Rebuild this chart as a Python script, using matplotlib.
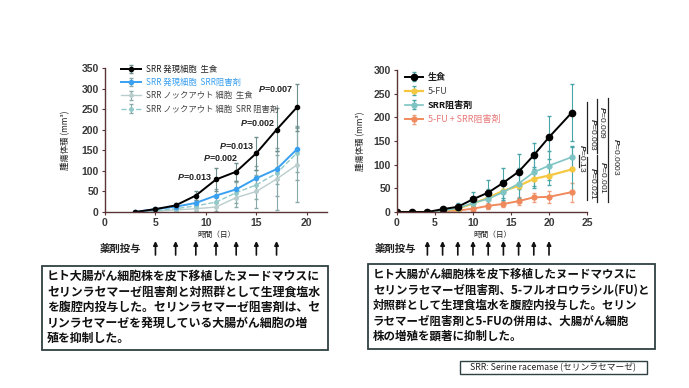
import matplotlib
matplotlib.use("Agg")
import matplotlib.pyplot as plt
import matplotlib.transforms as mtransforms
from matplotlib.patches import Rectangle

plt.rcParams['font.family'] = ['Liberation Sans', 'Noto Sans CJK JP', 'DejaVu Sans']
plt.rcParams['mathtext.fontset'] = 'custom'
plt.rcParams['mathtext.it'] = 'Liberation Sans:italic:bold'
plt.rcParams['mathtext.rm'] = 'Liberation Sans:bold'

CJK = ['Noto Sans CJK JP', 'DejaVu Sans']
W, H = 689, 388

# ---- left chart data (SRR expressing / knockout cells) ----
days_l = [3, 5, 7, 9, 11, 13, 15, 17, 19]
srr_saline = [0, 7, 16, 40, 79, 98, 143, 200, 254]
srr_saline_err = [0, 3, 6, 10, 27, 22, 40, 52, 58]
srr_inhib = [0, 7, 13, 22, 40, 55, 82, 104, 152]
srr_inhib_err = [0, 3, 5, 8, 15, 20, 30, 35, 55]
ko_saline = [0, 2, 5, 8, 12, 35, 50, 80, 114]
ko_saline_err = [0, 2, 3, 5, 10, 22, 40, 75, 90]
ko_inhib = [0, 3, 8, 15, 24, 47, 66, 94, 143]
ko_inhib_err = [0, 2, 4, 6, 12, 25, 35, 55, 65]
labels_l = ["SRR 発現細胞  生食", "SRR 発現細胞  SRR阻害剤",
            "SRR ノックアウト 細胞  生食", "SRR ノックアウト 細胞  SRR 阻害剤"]
pvals_l = ["0.013", "0.002", "0.013", "0.002", "0.007"]
pval_x_l = [8.9, 11.5, 13.1, 15.1, 16.9]
pval_y_l = [85, 131, 160, 216, 300]
doses_l = [5, 7, 9, 11, 13, 15, 17]

# ---- right chart data (5-FU combination) ----
days_r = [0, 2, 4, 6, 8, 10, 12, 14, 16, 18, 20, 23]
saline = [0, 0, 0, 6, 11, 27, 41, 62, 85, 120, 158, 210]
saline_err = [0, 0, 0, 3, 8, 15, 27, 32, 37, 25, 45, 60]
fu = [0, 0, 0, 3, 7, 18, 30, 45, 55, 70, 77, 90]
fu_err = [0, 0, 0, 2, 4, 8, 15, 20, 25, 20, 20, 50]
srr_inh = [0, 0, 0, 3, 8, 19, 28, 42, 60, 84, 98, 116]
srr_inh_err = [0, 0, 0, 2, 5, 10, 20, 25, 32, 30, 30, 22]
combo = [0, 0, 0, 2, 3, 7, 13, 17, 23, 31, 32, 42]
combo_err = [0, 0, 0, 1, 2, 5, 6, 6, 8, 10, 12, 20]
labels_r = ["生食", "5-FU", "SRR阻害剤", "5-FU + SRR阻害剤"]
doses_r = [4, 6, 8, 10, 12, 14, 16, 18, 20]
# significance brackets at day 23
br_x = [24.96, 24.96, 26.3, 26.3, 27.8, 23.9]
br_lo = [124, 25, 124, 22, 22, 96]
br_hi = [233, 117, 238, 120, 240, 120]
br_p = ["0.003", "0.021", "0.009", "0.001", "0.0003", "0.13"]
br_tx = [25.8, 25.8, 27.1, 27.2, 28.9, 24.4]
br_ty = [163, 61, 188, 72, 116, 114]

spine_c = "#5a3434"
tick_c = "#3a3a3a"

fig = plt.figure(figsize=(W / 100, H / 100), dpi=100)
fig.patch.set_facecolor("white")


def style_axes(ax):
    for s in ["top", "right"]:
        ax.spines[s].set_visible(False)
    for s in ["left", "bottom"]:
        ax.spines[s].set_color(spine_c)
        ax.spines[s].set_linewidth(1.0)
    ax.tick_params(length=2.5, width=0.8, color=spine_c, labelsize=7.5,
                   labelcolor=tick_c, pad=2)
    for lab in ax.get_xticklabels() + ax.get_yticklabels():
        lab.set_fontweight("bold")


# ---------------- left chart ----------------
axl = fig.add_axes([105 / W, 1 - 212 / H, 222 / W, 144 / H])
errc = "#8aa9a9"
axl.errorbar(days_l, ko_saline, yerr=ko_saline_err, color="#b9cdcd", lw=1.0,
             marker="o", ms=2.5, ecolor=errc, elinewidth=0.8, capsize=1.5,
             label=labels_l[2])
axl.errorbar(days_l, ko_inhib, yerr=ko_inhib_err, color="#93c9c9", lw=1.0,
             ls="--", marker="o", ms=2.5, ecolor=errc, elinewidth=0.8,
             capsize=1.5, label=labels_l[3])
axl.errorbar(days_l, srr_inhib, yerr=srr_inhib_err, color="#3aa0f0", lw=1.4,
             marker="o", ms=3, ecolor=errc, elinewidth=0.8, capsize=1.5,
             label=labels_l[1])
axl.errorbar(days_l, srr_saline, yerr=srr_saline_err, color="black", lw=1.4,
             marker="o", ms=3, ecolor="#6f8f8f", elinewidth=0.8, capsize=1.5,
             label=labels_l[0])
axl.set_xlim(0, 22)
axl.set_ylim(0, 350)
axl.set_xticks([0, 5, 10, 15, 20])
axl.set_yticks(range(0, 351, 50))
style_axes(axl)
axl.set_ylabel("腫瘍体積 (mm³)", fontsize=6, labelpad=8, color="#222",
               family=CJK)
axl.set_xlabel("時間（日）", fontsize=5.5, labelpad=2, color="#222",
               family=CJK)

h, l = axl.get_legend_handles_labels()
order = [3, 2, 0, 1]
leg = axl.legend([h[i] for i in order], [l[i] for i in order],
                 loc="upper left", bbox_to_anchor=(0.055, 1.05),
                 frameon=False, prop={"family": CJK, "size": 6},
                 handlelength=2.4, handletextpad=0.5, labelspacing=0.5,
                 borderpad=0)
for txt, c in zip(leg.get_texts(), ["#222", "#3aa0f0", "#444", "#444"]):
    txt.set_color(c)

for s, px, py in zip(pvals_l, pval_x_l, pval_y_l):
    axl.text(px, py, r"$\mathit{P}$=" + s, fontsize=6.5, fontweight="bold",
             ha="center", va="center", color="#222")

# ---------------- right chart ----------------
axr = fig.add_axes([397 / W, 1 - 212 / H, 190 / W, 142 / H])
terr = "#4aa5a8"
axr.errorbar(days_r, combo, yerr=combo_err, color="#f08a5d", lw=1.4,
             marker="o", ms=3.5, ecolor="#f0a080", elinewidth=0.8,
             capsize=1.5, label=labels_r[3])
axr.errorbar(days_r, fu, yerr=fu_err, color="#f5c842", lw=1.6, marker="o",
             ms=3.5, ecolor=terr, elinewidth=0.8, capsize=1.5,
             label=labels_r[1])
axr.errorbar(days_r, srr_inh, yerr=srr_inh_err, color="#7fc4c4", lw=1.2,
             marker="o", ms=3.5, ecolor=terr, elinewidth=0.8, capsize=1.5,
             label=labels_r[2])
axr.errorbar(days_r, saline, yerr=saline_err, color="black", lw=1.4,
             marker="o", ms=4.5, ecolor=terr, elinewidth=0.8, capsize=1.5,
             label=labels_r[0])
axr.set_xlim(0, 25)
axr.set_ylim(0, 300)
axr.set_xticks([0, 5, 10, 15, 20, 25])
axr.set_yticks(range(0, 301, 50))
style_axes(axr)
axr.set_ylabel("腫瘍体積 (mm³)", fontsize=6, labelpad=6, color="#222",
               family=CJK)
axr.set_xlabel("時間（日）", fontsize=5.5, labelpad=2, color="#222",
               family=CJK)

h, l = axr.get_legend_handles_labels()
order = [3, 1, 2, 0]
leg = axr.legend([h[i] for i in order], [l[i] for i in order],
                 loc="upper left", bbox_to_anchor=(0.02, 1.01),
                 frameon=False, prop={"family": CJK, "size": 6.5},
                 handlelength=2.0, handletextpad=0.5, labelspacing=0.55,
                 borderpad=0)
for txt, c, wgt in zip(leg.get_texts(), ["#222", "#444", "#111", "#e87878"],
                       ["bold", "normal", "bold", "normal"]):
    txt.set_color(c)
    txt.set_fontweight(wgt)

for x, lo, hi, p, tx, ty in zip(br_x, br_lo, br_hi, br_p, br_tx, br_ty):
    axr.plot([x, x], [lo, hi], color="#222", lw=0.9, clip_on=False)
    axr.text(tx, ty, r"$\mathit{P}$=" + p, rotation=-90, fontsize=6,
             ha="center", va="center", color="#222")

# ---------------- dosing arrows ----------------
for ax, doses, lx in [(axl, doses_l, 100), (axr, doses_r, 375)]:
    tr = mtransforms.blended_transform_factory(ax.transData, fig.transFigure)
    for d in doses:
        ax.annotate("", xy=(d, 1 - 241 / H), xycoords=tr,
                    xytext=(d, 1 - 255 / H), textcoords=tr,
                    arrowprops=dict(arrowstyle="-|>", color="#111", lw=1.2,
                                    mutation_scale=6, shrinkA=0, shrinkB=0),
                    annotation_clip=False)
    fig.text(lx / W, 1 - 249 / H, "薬剤投与", fontsize=7.5, fontweight="bold",
             ha="left", va="center", color="#222", family=CJK)

# ---------------- description boxes ----------------
text_l = ("ヒト大腸がん細胞株を皮下移植したヌードマウスに\n"
          "セリンラセマーゼ阻害剤と対照群として生理食塩水\n"
          "を腹腔内投与した。セリンラセマーゼ阻害剤は、セ\n"
          "リンラセマーゼを発現している大腸がん細胞の増\n"
          "殖を抑制した。")
text_r = ("ヒト大腸がん細胞株を皮下移植したヌードマウスに\n"
          "セリンラセマーゼ阻害剤、5-フルオロウラシル(FU)と\n"
          "対照群として生理食塩水を腹腔内投与した。セリン\n"
          "ラセマーゼ阻害剤と5-FUの併用は、大腸がん細胞\n"
          "株の増殖を顕著に抑制した。")

for (x0, y0, x1, y1, tx, txt, fs) in [(42, 266, 328, 350, 47, text_l, 8.6),
                                       (368, 264, 655, 349, 373, text_r, 8.25)]:
    fig.add_artist(Rectangle((x0 / W, 1 - y1 / H), (x1 - x0) / W,
                             (y1 - y0) / H, transform=fig.transFigure,
                             fill=False, ec="#2f4040", lw=1.3))
    fig.text(tx / W, 1 - (y0 + 4) / H, txt, fontsize=fs, fontweight="bold",
             ha="left", va="top", linespacing=1.25, color="#111", family=CJK)

fig.add_artist(Rectangle((460 / W, 1 - 374 / H), 187 / W, 13 / H,
                         transform=fig.transFigure, fill=False,
                         ec="#2f4040", lw=1.0))
fig.text(553 / W, 1 - 367.5 / H, "SRR: Serine racemase (セリンラセマーゼ)",
         fontsize=6.3, ha="center", va="center", color="#222", family=CJK)

fig.savefig("out.png", dpi=100, facecolor="white")
